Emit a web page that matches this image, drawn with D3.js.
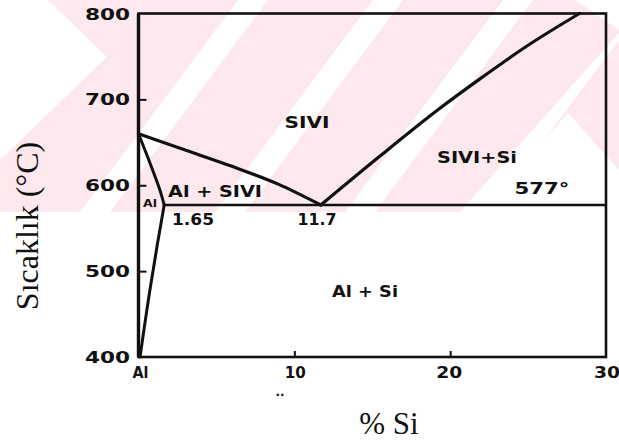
<!DOCTYPE html>
<html>
<head>
<meta charset="utf-8">
<script src="https://cdn.jsdelivr.net/npm/d3@7"></script>
<style>
  html, body { margin: 0; padding: 0; background: #fff; }
  svg { display: block; }
  .lbl { font-family: "DejaVu Sans", sans-serif; font-weight: bold; fill: #111; }
  .ttl { font-family: "Liberation Serif", "Times New Roman", serif; fill: #111; }
</style>
</head>
<body>
<script>
// Al–Si phase diagram (composition in wt.% Si, temperature in °C)
const xTicks = [0, 10, 20, 30];
const xTickLabels = ["Al", "10", "20", "30"];
const yTicks = [400, 500, 600, 700, 800];

// liquidus, Al-rich side
const liqAlSi = [0, 3, 6, 9, 11.7];
const liqAlT  = [660, 641, 622, 601, 577];
// liquidus, Si-rich side
const liqSiSi = [11.7, 15.5, 19.3, 22, 25, 28.3];
const liqSiT  = [577, 634, 689, 725, 763, 800];
// solidus of the Al solid solution
const solSi = [0, 0.9, 1.45, 1.65];
const solT  = [660, 618, 590, 577];
// solvus of the Al solid solution
const solvSi = [1.65, 1.2, 0.75, 0.1];
const solvT  = [577, 530, 480, 400];
// eutectic
const eutT = 577;
const eutSi = 11.7;
const maxSolSi = 1.65;

const W = 619, H = 441;
const svg = d3.select("body").append("svg").attr("width", W).attr("height", H);

// faint background band with diagonal stripes behind the upper part
const band = svg.append("g");
band.append("rect").attr("x", 0).attr("y", 0).attr("width", W).attr("height", 212).attr("fill", "#fde8ed");
const white = "#ffffff";
const stripes = [
  [[0,0],[48,0],[107,57],[0,160]],
  [[80,212],[110,212],[268,0],[238,0]],
  [[215,212],[245,212],[403,0],[373,0]],
  [[345,212],[375,212],[533,0],[503,0]],
  [[460,212],[490,212],[619,40],[619,0],[648,0]],
  [[480,212],[568,113],[619,170],[619,212]],
  [[575,0],[619,0],[619,30]]
];
stripes.forEach(p => band.append("polygon").attr("points", p.map(q => q.join(",")).join(" ")).attr("fill", white));

const x = d3.scaleLinear().domain([0, 30]).range([138.5, 606]);
const y = d3.scaleLinear().domain([400, 800]).range([357, 13.5]);

const g = svg.append("g");

// tick marks pointing into the frame
const yAxis = d3.axisRight(y).tickValues([500, 600, 700]).tickSize(8).tickFormat("");
g.append("g").attr("transform", `translate(${x(0)},0)`).call(yAxis)
  .call(s => s.select(".domain").remove())
  .selectAll("line").attr("stroke", "#111").attr("stroke-width", 2);
const xAxis = d3.axisTop(x).tickValues([10, 20]).tickSize(6).tickFormat("");
g.append("g").attr("transform", `translate(0,${y(400)})`).call(xAxis)
  .call(s => s.select(".domain").remove())
  .selectAll("line").attr("stroke", "#111").attr("stroke-width", 2);

// frame
g.append("rect").attr("x", x(0)).attr("y", y(800))
  .attr("width", x(30) - x(0)).attr("height", y(400) - y(800))
  .attr("fill", "none").attr("stroke", "#111").attr("stroke-width", 2.6);
g.append("line").attr("x1", x(0)).attr("x2", x(0)).attr("y1", y(800)).attr("y2", y(400))
  .attr("stroke", "#111").attr("stroke-width", 3.4);

// tick labels
const yl = g.append("g");
yTicks.forEach(t => {
  yl.append("text").attr("class", "lbl").attr("x", 130).attr("y", y(t) + 6)
    .attr("text-anchor", "end").attr("font-size", 16)
    .attr("textLength", 45).attr("lengthAdjust", "spacingAndGlyphs").text(String(t));
});
const xLabW = [16, 21, 26, 26];
const xLabDx = [2, 1, -1, 1];
xTicks.forEach((t, i) => {
  g.append("text").attr("class", "lbl").attr("x", x(t) + xLabDx[i]).attr("y", 378)
    .attr("text-anchor", "middle").attr("font-size", 15)
    .attr("textLength", xLabW[i]).attr("lengthAdjust", "spacingAndGlyphs").text(xTickLabels[i]);
});

// phase boundaries
const toPts = (xs, ys) => xs.map((v, i) => [x(v), y(ys[i])]);
const lineX = d3.line().curve(d3.curveMonotoneX);
const lineY = d3.line().curve(d3.curveMonotoneY);
const drawPath = (gen, pts, w) => g.append("path").attr("d", gen(pts)).attr("fill", "none")
  .attr("stroke", "#111").attr("stroke-width", w).attr("stroke-linejoin", "round").attr("stroke-linecap", "round");

drawPath(lineX, toPts(liqAlSi, liqAlT), 3.2);
drawPath(lineX, toPts(liqSiSi, liqSiT), 3.2);
drawPath(lineX, toPts(solSi, solT), 3);
drawPath(lineY, toPts(solvSi, solvT), 3);
g.append("line").attr("x1", x(maxSolSi)).attr("x2", x(30)).attr("y1", y(eutT)).attr("y2", y(eutT))
  .attr("stroke", "#111").attr("stroke-width", 2.6);

// field and point labels
const labels = [
  ["SIVI", 307, 128, 16, 45],
  ["SIVI+Si", 477, 163, 16, 80],
  ["Al + SIVI", 215, 197, 16, 94],
  ["Al", 150, 207, 11, 14],
  [String(maxSolSi), 193, 225, 16, 42],
  [String(eutSi), 317, 225, 16, 39],
  [eutT + "°", 542, 194, 16, 55],
  ["Al + Si", 365, 297, 16, 66]
];
labels.forEach(([t, lx, ly, fs, w]) => {
  g.append("text").attr("class", "lbl").attr("x", lx).attr("y", ly)
    .attr("text-anchor", "middle").attr("font-size", fs)
    .attr("textLength", w).attr("lengthAdjust", "spacingAndGlyphs").text(t);
});
g.append("text").attr("class", "lbl").attr("x", 280).attr("y", 396)
  .attr("text-anchor", "middle").attr("font-size", 12).text("..");

// axis titles
svg.append("text").attr("class", "ttl").attr("font-size", 31)
  .attr("x", 389).attr("y", 434).attr("text-anchor", "middle").text("% Si");
svg.append("text").attr("class", "ttl").attr("font-size", 32)
  .attr("transform", "translate(38,226) rotate(-90)").attr("text-anchor", "middle").text("Sıcaklık (°C)");
</script>
</body>
</html>
